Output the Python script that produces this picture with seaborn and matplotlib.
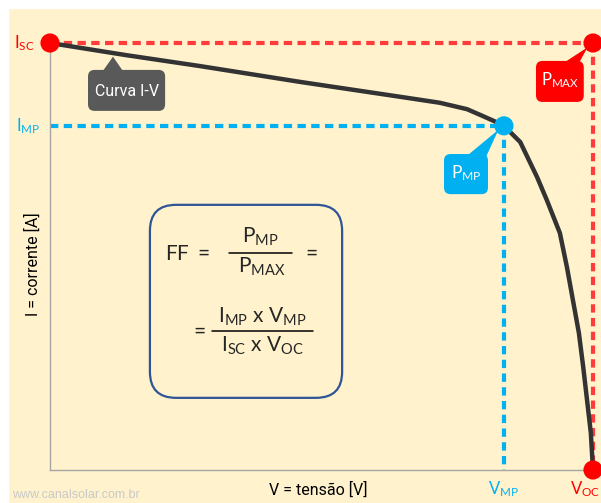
import matplotlib
matplotlib.use("Agg")
import matplotlib.pyplot as plt
import seaborn as sns
import pandas as pd
from matplotlib.patches import FancyBboxPatch, Polygon, Rectangle

# ---- data (normalised: V_OC = 1, I_SC = 1) ----
curve_v = [0.0, 0.138, 0.276, 0.460, 0.645, 0.718, 0.768, 0.797, 0.818, 0.836,
           0.866, 0.897, 0.915, 0.939, 0.952, 0.963, 0.974, 0.982, 0.989, 0.996, 1.0]
curve_i = [1.0, 0.972, 0.946, 0.909, 0.874, 0.860, 0.845, 0.829, 0.817, 0.806,
           0.768, 0.686, 0.632, 0.555, 0.475, 0.398, 0.321, 0.241, 0.164, 0.087, 0.0]
V_MP, I_MP = 0.836, 0.806
V_OC, I_SC = 1.0, 1.0
point_names = ["Isc", "Pmax", "Voc", "Pmp"]
point_v = [0.0, V_OC, V_OC, V_MP]
point_i = [I_SC, I_SC, 0.0, I_MP]

RED = "#ff0000"
RED_D = "#ff3b3b"
BLUE = "#00b0f0"
CREAM = "#fff2cc"
DARK = "#333333"

sns.set_theme(style="white")
plt.rcParams["font.family"] = ["Roboto", "Liberation Sans", "DejaVu Sans"]
plt.rcParams["mathtext.fontset"] = "custom"
plt.rcParams["mathtext.rm"] = "Lato"
plt.rcParams["mathtext.it"] = "Lato:italic"
plt.rcParams["mathtext.bf"] = "Lato:bold"

fig = plt.figure(figsize=(6.01, 5.03), dpi=100, facecolor=CREAM)
ax = fig.add_axes([50 / 601, 33 / 503, 551 / 601, 462 / 503])
ax.set_facecolor("none")
ax.set_xlim(0, 551 / 543)
ax.set_ylim(0, 462 / 427)
ax.set_xticks([])
ax.set_yticks([])
for s in ["top", "right"]:
    ax.spines[s].set_visible(False)
for s in ["left", "bottom"]:
    ax.spines[s].set_color("#a6a6a6")
    ax.spines[s].set_linewidth(1.0)
ax.spines["bottom"].set_bounds(0, V_OC)
ax.spines["left"].set_bounds(0, I_SC)

# white strips (cropped margins)
fig.patches.append(Rectangle((0, 1 - 8 / 503), 1, 8 / 503, transform=fig.transFigure,
                             color="white", zorder=-1))
fig.patches.append(Rectangle((0, 0), 8 / 601, 1, transform=fig.transFigure,
                             color="white", zorder=-1))

# guide lines
dash = (2.0, 1.3)
ax.plot([0, V_OC], [I_SC, I_SC], color=RED_D, lw=3, dashes=dash, clip_on=False, zorder=2)
ax.plot([V_OC, V_OC], [I_SC, 0], color=RED_D, lw=3, dashes=dash, clip_on=False, zorder=2)
ax.plot([0, V_MP], [I_MP, I_MP], color=BLUE, lw=3, dashes=dash, clip_on=False, zorder=2)
ax.plot([V_MP, V_MP], [I_MP, 0], color=BLUE, lw=3, dashes=dash, clip_on=False, zorder=2)

# I-V curve
df = pd.DataFrame({"V": curve_v, "I": curve_i})
sns.lineplot(data=df, x="V", y="I", sort=False, color=DARK, lw=3.2, ax=ax, zorder=3)
ax.lines[-1].set_solid_joinstyle("round")
ax.lines[-1].set_solid_capstyle("round")
ax.set_xlabel("")
ax.set_ylabel("")

pts = pd.DataFrame({"V": point_v, "I": point_i, "name": point_names})
sns.scatterplot(data=pts, x="V", y="I", hue="name",
                palette={"Isc": RED, "Pmax": RED, "Voc": RED, "Pmp": BLUE},
                s=190, edgecolor="none", legend=False, ax=ax, clip_on=False, zorder=5)
ax.set_xlabel("")
ax.set_ylabel("")

# axis-side labels
ax.text(-0.028, I_SC, r"$\mathrm{I_{SC}}$", color=RED, fontsize=12, ha="right", va="center")
ax.text(-0.018, I_MP, r"$\mathrm{I_{MP}}$", color=BLUE, fontsize=12, ha="right", va="center")
ax.text(V_MP, -0.045, r"$\mathrm{V_{MP}}$", color=BLUE, fontsize=12, ha="center", va="center")
ax.text(V_OC - 0.015, -0.045, r"$\mathrm{V_{OC}}$", color=RED, fontsize=12, ha="center", va="center")
ax.text(0.4936, -0.047, "V = tensão [V]", fontsize=11.5, ha="center", va="center", color="black")
ax.text(-0.031, 0.482, "I = corrente [A]", fontsize=11.5, ha="center", va="center",
        rotation=90, color="black")
fig.text(12 / 601, 1.5 / 503, "www.canalsolar.com.br", fontsize=9, color="#c9c9c9",
         ha="left", va="bottom", family=["Liberation Sans", "DejaVu Sans"])

ASP = 543 / 427  # pixel aspect of data units


def callout(x0, y0, x1, y1, tri, color, text, fs, tx, ty, r=0.012):
    box = FancyBboxPatch((x0, y0), x1 - x0, y1 - y0,
                         boxstyle=f"round,pad=0,rounding_size={r}",
                         mutation_aspect=ASP, facecolor=color, edgecolor="none",
                         zorder=6, clip_on=False)
    ax.add_patch(box)
    ax.add_patch(Polygon(tri, closed=True, facecolor=color, edgecolor="none",
                         zorder=6, clip_on=False))
    ax.text(tx, ty, text, color="white", fontsize=fs, ha="center", va="center", zorder=7)


callout(0.070, 0.841, 0.212, 0.937,
        [(0.0976, 0.935), (0.134, 0.935), (0.116, 0.968)],
        "#595959", "Curva I-V", 11.5, 0.141, 0.886)
callout(0.895, 0.862, 0.983, 0.958,
        [(0.948, 0.955), (0.975, 0.955), (0.99, 0.99)],
        RED, r"$\mathrm{P_{MAX}}$", 12, 0.939, 0.912)
callout(0.7256, 0.646, 0.8066, 0.740,
        [(0.770, 0.738), (0.800, 0.725), (0.826, 0.797)],
        BLUE, r"$\mathrm{P_{MP}}$", 12.5, 0.766, 0.695)

# formula box
ax.add_patch(FancyBboxPatch((0.184, 0.169), 0.538 - 0.184, 0.621 - 0.169,
                            boxstyle="round,pad=0,rounding_size=0.048",
                            mutation_aspect=ASP, facecolor=CREAM,
                            edgecolor="#2f5597", lw=1.6, zorder=4))
ffs = 15
ax.text(0.2118, 0.4918, r"$\mathrm{FF\ =}$", fontsize=ffs, ha="left", va="baseline", zorder=5)
ax.text(0.3867, 0.5316, r"$\mathrm{P_{MP}}$", fontsize=ffs, ha="center", va="baseline", zorder=5)
ax.plot([0.3297, 0.4457], [0.508, 0.508], color="black", lw=1.1, zorder=5)
ax.text(0.390, 0.4614, r"$\mathrm{P_{MAX}}$", fontsize=ffs, ha="center", va="baseline", zorder=5)
ax.text(0.479, 0.508, r"$\mathrm{=}$", fontsize=ffs, ha="center", va="center", zorder=5)

ax.text(0.2726, 0.3255, r"$\mathrm{=}$", fontsize=ffs, ha="center", va="center", zorder=5)
ax.text(0.391, 0.3443, r"$\mathrm{I_{MP}\ x\ V_{MP}}$", fontsize=ffs, ha="center",
        va="baseline", zorder=5)
ax.plot([0.2983, 0.4843], [0.3255, 0.3255], color="black", lw=1.1, zorder=5)
ax.text(0.391, 0.2763, r"$\mathrm{I_{SC}\ x\ V_{OC}}$", fontsize=ffs, ha="center",
        va="baseline", zorder=5)

fig.savefig("out.png", dpi=100, facecolor=CREAM)
